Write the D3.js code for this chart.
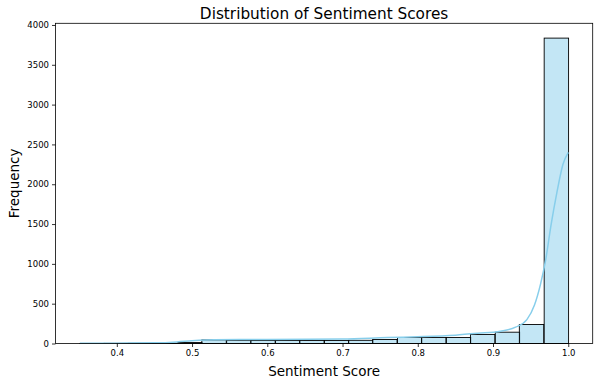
<!DOCTYPE html>
<html>
<head>
<meta charset="utf-8">
<script src="https://cdn.jsdelivr.net/npm/d3@7"></script>
<style>
  body { margin: 0; background: #fff; }
  text { font-family: "DejaVu Sans", sans-serif; fill: #000; }
</style>
</head>
<body>
<svg id="chart" width="600" height="384"></svg>
<script>
// histogram bin left edges (bin width ~0.03245) and counts
const binStarts = [0.351, 0.383, 0.416, 0.448, 0.481, 0.513, 0.546, 0.578, 0.611, 0.643,
  0.676, 0.708, 0.740, 0.773, 0.805, 0.838, 0.870, 0.903, 0.935, 0.968]
const binWidth = 0.03245
const counts = [1, 2, 3, 4, 12, 45, 40, 38, 38, 38, 38, 40, 50, 75, 75, 75, 113, 142, 238, 3835]

// kde curve (scaled to counts)
const kdeX = [0.351, 0.40, 0.45, 0.48, 0.50, 0.53, 0.60, 0.70, 0.76, 0.80, 0.85, 0.88,
  0.91, 0.93, 0.945, 0.955, 0.963, 0.97, 0.977, 0.985, 0.993, 1.0]
const kdeY = [3, 4, 8, 20, 35, 48, 50, 55, 75, 85, 105, 128, 155, 205, 300, 480, 740,
  1050, 1480, 1900, 2250, 2400]

const xTicks = [0.4, 0.5, 0.6, 0.7, 0.8, 0.9, 1.0]
const yTicks = [0, 500, 1000, 1500, 2000, 2500, 3000, 3500, 4000]

const margin = { left: 55.5, right: 7.3, top: 23.3, bottom: 40.5 }
const width = 600
const height = 384

const svg = d3.select('#chart')

const x = d3.scaleLinear()
  .domain([0.3185, 1.0325])
  .range([margin.left, width - margin.right])

const y = d3.scaleLinear()
  .domain([0, 4021])
  .range([height - margin.bottom, margin.top])

const bins = binStarts.map((s, i) => ({ x0: s, x1: s + binWidth, n: counts[i] }))

svg.append('g')
  .selectAll('rect')
  .data(bins)
  .enter()
  .append('rect')
  .attr('x', (d) => x(d.x0))
  .attr('y', (d) => y(d.n))
  .attr('width', (d) => x(d.x1) - x(d.x0))
  .attr('height', (d) => y(0) - y(d.n))
  .attr('fill', 'rgba(135,206,235,0.5)')
  .attr('stroke', '#000')
  .attr('stroke-width', 0.9)

const kde = kdeX.map((v, i) => [v, kdeY[i]])
svg.append('path')
  .datum(kde)
  .attr('fill', 'none')
  .attr('stroke', '#87CEEB')
  .attr('stroke-width', 1.5)
  .attr('d', d3.line().x((d) => x(d[0])).y((d) => y(d[1])).curve(d3.curveMonotoneX))

// frame
svg.append('rect')
  .attr('x', margin.left)
  .attr('y', margin.top)
  .attr('width', width - margin.left - margin.right)
  .attr('height', height - margin.top - margin.bottom)
  .attr('fill', 'none')
  .attr('stroke', '#000')
  .attr('stroke-width', 0.8)

const xAxis = svg.append('g')
  .attr('transform', 'translate(0,' + (height - margin.bottom) + ')')
  .call(d3.axisBottom(x).tickValues(xTicks).tickFormat(d3.format('.1f')).tickSize(3.5).tickPadding(3))
const yAxis = svg.append('g')
  .attr('transform', 'translate(' + margin.left + ',0)')
  .call(d3.axisLeft(y).tickValues(yTicks).tickFormat(d3.format('d')).tickSize(3.5).tickPadding(3))

;[xAxis, yAxis].forEach((a) => {
  a.select('.domain').remove()
  a.selectAll('line').attr('stroke', '#000').attr('stroke-width', 0.8)
  a.selectAll('text').style('font-family', '"DejaVu Sans", sans-serif').style('font-size', '8.5px').attr('fill', '#000')
})

svg.append('text')
  .attr('x', (margin.left + width - margin.right) / 2)
  .attr('y', 19)
  .attr('text-anchor', 'middle')
  .style('font-size', '15.3px')
  .text('Distribution of Sentiment Scores')

svg.append('text')
  .attr('x', (margin.left + width - margin.right) / 2)
  .attr('y', 376)
  .attr('text-anchor', 'middle')
  .style('font-size', '13.5px')
  .text('Sentiment Score')

svg.append('text')
  .attr('transform', 'translate(19,' + ((margin.top + height - margin.bottom) / 2) + ') rotate(-90)')
  .attr('text-anchor', 'middle')
  .style('font-size', '13.5px')
  .text('Frequency')
</script>
</body>
</html>
